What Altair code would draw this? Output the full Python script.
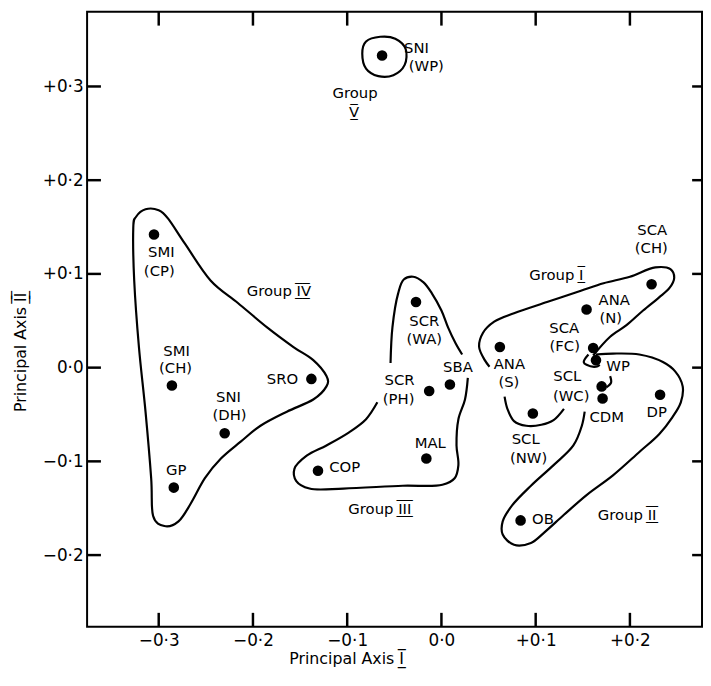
import altair as alt
import pandas as pd

# ---------------- data ----------------
point_names = ["SNI (WP)", "SMI (CP)", "SMI (CH)", "SNI (DH)", "GP", "SRO", "COP",
               "SCR (WA)", "SCR (PH)", "SBA", "MAL", "SCA (CH)", "ANA (N)", "SCA (FC)",
               "ANA (S)", "WP", "SCL (WC)", "CDM", "DP", "SCL (NW)", "OB"]
axis1 = [-0.063, -0.305, -0.286, -0.230, -0.284, -0.138, -0.131,
         -0.027, -0.013, 0.009, -0.016, 0.223, 0.154, 0.161,
         0.062, 0.164, 0.170, 0.171, 0.232, 0.097, 0.084]
axis2 = [0.333, 0.142, -0.019, -0.070, -0.128, -0.012, -0.110,
         0.070, -0.025, -0.018, -0.097, 0.089, 0.062, 0.021,
         0.022, 0.008, -0.020, -0.033, -0.029, -0.049, -0.163]

label_text = ["SNI", "(WP)", "SMI", "(CP)", "SMI", "(CH)", "SNI", "(DH)", "GP", "SRO", "COP",
              "SCR", "(WA)", "SCR", "(PH)", "SBA", "MAL", "SCA", "(CH)", "ANA", "(N)",
              "SCA", "(FC)", "ANA", "(S)", "WP", "SCL", "(WC)", "CDM", "DP", "SCL", "(NW)", "OB"]
label_x = [-0.0265, -0.0161, -0.2973, -0.2994, -0.2810, -0.2821, -0.2259, -0.2249, -0.2815, -0.1687, -0.1026,
           -0.0182, -0.0182, -0.0444, -0.0454, 0.0175, -0.0119, 0.2237, 0.2227, 0.1833, 0.1796,
           0.1303, 0.1308, 0.0721, 0.0716, 0.1875, 0.1335, 0.1377, 0.1754, 0.2284, 0.0894, 0.0925, 0.1078]
label_y = [0.3407, 0.3217, 0.1234, 0.1034, 0.0182, 0.0000, -0.0316, -0.0503, -0.1089, -0.0127, -0.1058,
           0.0496, 0.0303, -0.0134, -0.0330, 0.0003, -0.0805, 0.1463, 0.1273, 0.0717, 0.0524,
           0.0425, 0.0225, 0.0039, -0.0155, 0.0014, -0.0092, -0.0303, -0.0524, -0.0472, -0.0767, -0.0963, -0.1611]


def barred(s):
    # roman numeral drawn with bars above and below, as in the figure
    return "".join(c + "\u0305\u0332" for c in s)


group_text = ["Group", barred("V"), "Group " + barred("IV"), "Group " + barred("III"),
              "Group " + barred("I"), "Group " + barred("II")]
group_x = [-0.0916, -0.0927, -0.1724, -0.0654, 0.1219, 0.1970]
group_y = [0.2933, 0.2722, 0.0812, -0.1505, 0.0992, -0.1569]

x_title = "Principal Axis " + barred("I")
y_title = "Principal Axis " + barred("II")

# group outlines (closed)
g5_x = [-0.084, -0.080, -0.065, -0.049, -0.038, -0.039, -0.051, -0.067, -0.080]
g5_y = [0.335, 0.348, 0.353, 0.351, 0.340, 0.323, 0.312, 0.311, 0.319]
g4_x = [-0.314, -0.300, -0.290, -0.272, -0.245, -0.216, -0.185, -0.157, -0.136, -0.122, -0.122,
        -0.136, -0.164, -0.192, -0.213, -0.234, -0.251, -0.266, -0.279, -0.294, -0.306, -0.308,
        -0.314, -0.321, -0.326, -0.327, -0.324]
g4_y = [0.169, 0.168, 0.159, 0.132, 0.093, 0.069, 0.043, 0.022, 0.008, -0.009, -0.020,
        -0.034, -0.047, -0.062, -0.079, -0.097, -0.118, -0.145, -0.164, -0.169, -0.158, -0.118,
        -0.047, 0.022, 0.093, 0.149, 0.161]
# group outlines (open strokes, broken where labels sit)
g3a_x = [-0.054, -0.052, -0.046, -0.040, -0.030, -0.019, -0.010, 0.000, 0.007, 0.015, 0.022]
g3a_y = [0.005, 0.043, 0.079, 0.094, 0.097, 0.091, 0.079, 0.061, 0.043, 0.026, 0.014]
g3b_x = [0.028, 0.025, 0.018, 0.016, 0.018, 0.014, 0.001, -0.041, -0.104, -0.140, -0.154,
         -0.156, -0.143, -0.122, -0.098, -0.080, -0.068]
g3b_y = [-0.011, -0.034, -0.055, -0.083, -0.104, -0.118, -0.125, -0.126, -0.129, -0.129, -0.121,
         -0.108, -0.094, -0.083, -0.069, -0.055, -0.037]
g1a_x = [0.161, 0.179, 0.196, 0.214, 0.231, 0.242, 0.247, 0.243, 0.227, 0.200, 0.172, 0.148,
         0.112, 0.077, 0.056, 0.044, 0.040, 0.046, 0.051]
g1a_y = [0.013, 0.033, 0.045, 0.061, 0.075, 0.085, 0.096, 0.105, 0.107, 0.097, 0.090, 0.082,
         0.070, 0.058, 0.049, 0.037, 0.022, 0.008, 0.001]
g1b_x = [0.067, 0.070, 0.077, 0.090, 0.106, 0.119, 0.130]
g1b_y = [-0.031, -0.044, -0.057, -0.062, -0.061, -0.056, -0.044]
g2a_x = [0.164, 0.182, 0.210, 0.235, 0.248, 0.256, 0.254, 0.245, 0.231, 0.210, 0.182, 0.154,
         0.130, 0.109, 0.095, 0.077, 0.065, 0.065, 0.075, 0.095, 0.119, 0.140, 0.149, 0.152]
g2a_y = [0.014, 0.015, 0.014, 0.006, -0.004, -0.020, -0.037, -0.053, -0.071, -0.090, -0.115, -0.136,
         -0.157, -0.176, -0.187, -0.189, -0.178, -0.164, -0.147, -0.126, -0.104, -0.083, -0.062, -0.047]
g2b_x = [0.156, 0.151, 0.154, 0.164, 0.168]
g2b_y = [0.014, 0.006, 0.003, 0.001, 0.003]
g2c_x = [0.179, 0.180, 0.175]
g2c_y = [-0.009, -0.016, -0.021]

x_ticks = [-0.3, -0.2, -0.1, 0.0, 0.1, 0.2]
x_tick_labels = ["\u22120\u00b73", "\u22120\u00b72", "\u22120\u00b71", "0\u00b70", "+0\u00b71", "+0\u00b72"]
y_ticks = [-0.2, -0.1, 0.0, 0.1, 0.2, 0.3]
y_tick_labels = ["\u22120\u00b72", "\u22120\u00b71", "0\u00b70", "+0\u00b71", "+0\u00b72", "+0\u00b73"]

# ---------------- tables ----------------
points = pd.DataFrame({"name": point_names, "x": axis1, "y": axis2})
labels = pd.DataFrame({"text": label_text, "x": label_x, "y": label_y})
groups = pd.DataFrame({"text": group_text, "x": group_x, "y": group_y})


def outline_frame(segs):
    rows = []
    for sid, (xs, ys) in segs.items():
        for i, (a, b) in enumerate(zip(xs, ys)):
            rows.append({"seg": sid, "ord": i, "x": a, "y": b})
    return pd.DataFrame(rows)


closed_df = outline_frame({"V": (g5_x, g5_y), "IV": (g4_x, g4_y)})
open_df = outline_frame({"IIIa": (g3a_x, g3a_y), "IIIb": (g3b_x, g3b_y),
                         "Ia": (g1a_x, g1a_y), "Ib": (g1b_x, g1b_y),
                         "IIa": (g2a_x, g2a_y), "IIb": (g2b_x, g2b_y), "IIc": (g2c_x, g2c_y)})
xt = pd.DataFrame({"x": x_ticks})
yt = pd.DataFrame({"y": y_ticks})


def label_expr(vals, labs):
    parts = []
    for v, l in zip(vals, labs):
        parts.append(f"round(datum.value*10) == {round(v * 10)} ? '{l}'")
    return " : ".join(parts) + " : ''"


FONT = "DejaVu Sans"
W, H = 622, 622

xscale = alt.Scale(domain=[-0.376, 0.2765], nice=False, zero=False)
yscale = alt.Scale(domain=[-0.2764, 0.3797], nice=False, zero=False)
xaxis = alt.Axis(values=x_ticks, labelExpr=label_expr(x_ticks, x_tick_labels), grid=False,
                 domain=False, ticks=False, labelFont=FONT, labelFontSize=17, labelPadding=6,
                 labelColor="black", title=x_title, titleFont=FONT,
                 titleFontSize=16, titleFontWeight="normal", titleColor="black",
                 titleX=262, titleY=32, titleBaseline="middle", titleAlign="center")
yaxis = alt.Axis(values=y_ticks, labelExpr=label_expr(y_ticks, y_tick_labels), grid=False,
                 domain=False, ticks=False, labelFont=FONT, labelFontSize=17, labelPadding=4,
                 labelColor="black", title=y_title, titleFont=FONT,
                 titleFontSize=16, titleFontWeight="normal", titleColor="black",
                 titleX=-67, titleY=344, titleAngle=270, titleBaseline="middle", titleAlign="center")
X = alt.X("x:Q", scale=xscale, axis=xaxis)
Y = alt.Y("y:Q", scale=yscale, axis=yaxis)

closed_lines = alt.Chart(closed_df).mark_line(
    interpolate="cardinal-closed", color="black", strokeWidth=2.2
).encode(x=X, y=Y, detail="seg:N", order="ord:Q")

open_lines = alt.Chart(open_df).mark_line(
    interpolate="catmull-rom", color="black", strokeWidth=2.2
).encode(x=X, y=Y, detail="seg:N", order="ord:Q")

dots = alt.Chart(points).mark_circle(size=115, color="black", opacity=1).encode(x=X, y=Y)

point_labels = alt.Chart(labels).mark_text(
    font=FONT, fontSize=15, align="center", baseline="middle", color="black"
).encode(x=X, y=Y, text="text:N")

group_labels = alt.Chart(groups).mark_text(
    font=FONT, fontSize=15, align="center", baseline="middle", color="black"
).encode(x=X, y=Y, text="text:N")

tick_style = dict(color="black", strokeWidth=2.5)
bottom_ticks = alt.Chart(xt).mark_rule(**tick_style).encode(x=X, y=alt.value(H), y2=alt.value(H - 14))
top_ticks = alt.Chart(xt).mark_rule(**tick_style).encode(x=X, y=alt.value(0), y2=alt.value(14))
left_ticks = alt.Chart(yt).mark_rule(**tick_style).encode(y=Y, x=alt.value(0), x2=alt.value(14))
right_ticks = alt.Chart(yt).mark_rule(**tick_style).encode(y=Y, x=alt.value(W), x2=alt.value(W - 10))

chart = alt.layer(
    closed_lines, open_lines, dots, point_labels, group_labels,
    bottom_ticks, top_ticks, left_ticks, right_ticks
).properties(
    width=W, height=H,
    autosize=alt.AutoSizeParams(type="none"),
    padding={"left": 80, "top": 0, "right": 1, "bottom": 40},
    background="white",
).configure_view(stroke="black", strokeWidth=2)

chart.save("out.html", embed_options={"renderer": "svg", "actions": False})
